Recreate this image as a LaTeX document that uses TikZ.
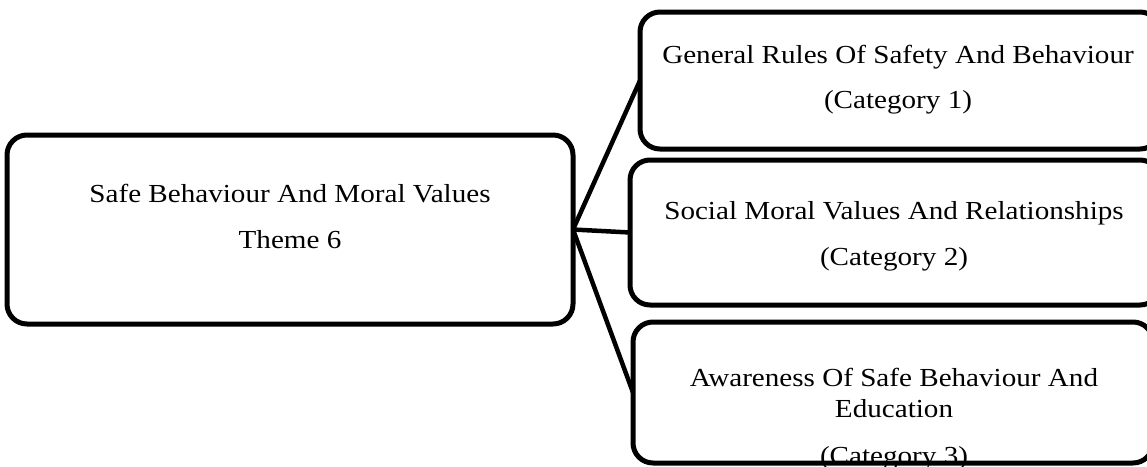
\documentclass[tikz,border=0pt]{standalone}
\usepackage{fontspec}
\setmainfont[FakeStretch=1.12]{Liberation Serif}
\begin{document}
\begin{tikzpicture}[x=1pt,y=-1pt,
  box/.style={draw=black, line width=5pt, rounded corners=20pt, inner sep=0pt, outer sep=0pt, rectangle},
  link/.style={draw=black, line width=4.5pt},
  txt/.style={anchor=base, inner sep=0pt, font=\fontsize{26}{31}\selectfont}]
  \clip (0,0) rectangle (1147,466);
  % labels
  \node[txt] (themeA) at (290,202) {Safe Behaviour And Moral Values};
  \node[txt] (themeB) at (290,248) {Theme 6};
  \node[txt] (cat1A) at (898,63) {General Rules Of Safety And Behaviour};
  \node[txt] (cat1B) at (898,108) {(Category 1)};
  \node[txt] (cat2A) at (894,219) {Social Moral Values And Relationships};
  \node[txt] (cat2B) at (894,265) {(Category 2)};
  \node[txt] (cat3A) at (894,386) {Awareness Of Safe Behaviour And};
  \node[txt] (cat3B) at (894,417) {Education};
  \node[txt] (cat3C) at (894,464) {(Category 3)};
  % frames
  \node[box, minimum width=566pt, minimum height=189pt] (theme) at (290,229.5) {};
  \node[box, minimum width=520pt, minimum height=137pt] (cat1) at (900,80.5) {};
  \node[box, minimum width=530pt, minimum height=145pt] (cat2) at (895,232.5) {};
  \node[box, minimum width=520pt, minimum height=141pt] (cat3) at (893,392.5) {};
  % connectors from the theme to each category
  \draw[link] (theme.east) -- (cat1.west);
  \draw[link] (theme.east) -- (cat2.west);
  \draw[link] (theme.east) -- (cat3.west);
\end{tikzpicture}
\end{document}
